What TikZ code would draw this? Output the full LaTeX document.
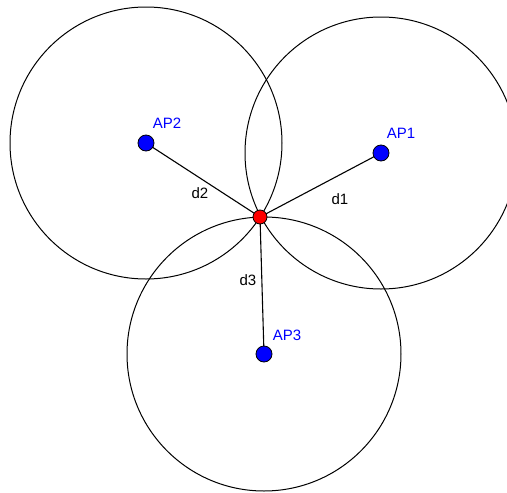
\documentclass[tikz,border=0pt]{standalone}
\usepackage{fontspec}
\setmainfont{Liberation Sans}
\begin{document}
\begin{tikzpicture}[x=1pt,y=-1pt,
  ring/.style={draw=black,line width=1pt},
  link/.style={draw=black,line width=1.1pt},
  apdot/.style={circle,draw=black,line width=0.8pt,fill=blue,minimum size=16pt,inner sep=0pt},
  posdot/.style={circle,draw=black,line width=0.8pt,fill=red,minimum size=14pt,inner sep=0pt},
  aplabel/.style={text=blue,font=\fontsize{15}{17}\selectfont,inner sep=0pt},
  dlabel/.style={text=black,font=\fontsize{15}{17}\selectfont,inner sep=0pt}]
\useasboundingbox (0,0) rectangle (507,493);
\coordinate (c1) at (381,153);
\coordinate (c2) at (146,143);
\coordinate (c3) at (264,354);
\coordinate (cp) at (260,217);
\begin{scope}
\clip (0,0) rectangle (507,493);
\draw[ring] (c1) circle[radius=136];
\draw[ring] (c2) circle[radius=136];
\draw[ring] (c3) circle[radius=137];
\end{scope}
\draw[link] (c1) -- (cp);
\draw[link] (c2) -- (cp);
\draw[link] (c3) -- (cp);
\node[apdot] (ap1) at (c1) {};
\node[apdot] (ap2) at (c2) {};
\node[apdot] (ap3) at (c3) {};
\node[posdot] (p) at (cp) {};
\node[aplabel] (t1) at (401,133) {AP1};
\node[aplabel] (t2) at (167,123) {AP2};
\node[aplabel] (t3) at (287,335) {AP3};
\node[dlabel] (d1) at (340,199.5) {d1};
\node[dlabel] (d2) at (200,193.5) {d2};
\node[dlabel] (d3) at (248,280.5) {d3};
\end{tikzpicture}
\end{document}
